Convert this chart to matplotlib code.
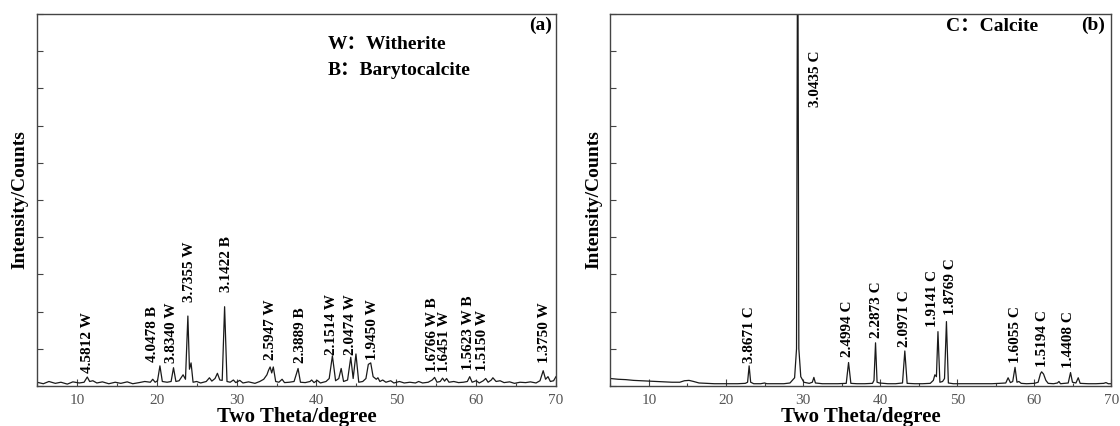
"""
XRD patterns of the two carbonate samples
"""
import matplotlib
matplotlib.use('Agg')
import matplotlib.pyplot as plt
from matplotlib.ticker import MultipleLocator

plt.rcParams['font.family'] = ['Liberation Serif', 'Noto Sans CJK SC']

# (a) witherite / barytocalcite sample, trace
two_theta_a = [5.0, 5.8, 6.5, 7.3, 8.0, 8.8, 9.5, 10.3, 10.9, 11.3, 11.6, 12.0, 12.5, 13.2, 14.0,
               14.8, 15.5, 16.3, 17.0, 17.8, 18.5, 19.2, 19.5, 19.8, 20.1, 20.4, 20.7, 21.3, 21.8,
               22.1, 22.4, 22.8, 23.3, 23.6, 23.9, 24.1, 24.3, 24.55, 25.0, 25.5, 26.2, 26.6, 26.9,
               27.3, 27.6, 27.9, 28.2, 28.5, 28.8, 29.2, 29.6, 29.9, 30.4, 30.8, 31.5, 32.3, 32.9,
               33.4, 33.8, 34.0, 34.2, 34.4, 34.6, 34.9, 35.3, 35.7, 36.0, 36.6, 37.2, 37.7, 38.0,
               38.6, 39.2, 39.4, 39.7, 40.1, 40.5, 41.2, 41.6, 42.0, 42.4, 42.8, 43.1, 43.4, 43.9,
               44.3, 44.6, 44.95, 45.3, 45.8, 46.2, 46.5, 46.8, 47.1, 47.5, 47.7, 47.95, 48.3, 48.7,
               49.3, 49.7, 50.4, 51.0, 51.7, 52.4, 52.8, 53.3, 54.0, 54.5, 54.8, 55.1, 55.5, 55.8,
               56.05, 56.3, 56.6, 57.2, 57.8, 58.4, 58.9, 59.2, 59.5, 60.0, 60.4, 60.9, 61.2, 61.5,
               61.9, 62.1, 62.5, 63.0, 63.5, 64.2, 64.8, 65.5, 66.2, 66.8, 67.5, 68.0, 68.4, 68.7,
               69.0, 69.3, 69.7, 70.0]
counts_a = [0.10, 0.06, 0.12, 0.07, 0.10, 0.05, 0.11, 0.08, 0.10, 0.24, 0.12, 0.14, 0.08, 0.11, 0.06,
            0.10, 0.07, 0.11, 0.06, 0.09, 0.12, 0.10, 0.18, 0.10, 0.14, 0.54, 0.12, 0.10, 0.12,
            0.49, 0.12, 0.14, 0.30, 0.18, 1.88, 0.45, 0.62, 0.10, 0.12, 0.08, 0.12, 0.22, 0.13,
            0.20, 0.34, 0.16, 0.15, 2.13, 0.12, 0.10, 0.16, 0.09, 0.15, 0.08, 0.11, 0.07, 0.12,
            0.18, 0.30, 0.42, 0.51, 0.35, 0.51, 0.12, 0.10, 0.18, 0.09, 0.10, 0.12, 0.47, 0.10,
            0.09, 0.12, 0.16, 0.09, 0.15, 0.08, 0.12, 0.20, 0.81, 0.14, 0.20, 0.47, 0.12, 0.16,
            0.77, 0.20, 0.86, 0.10, 0.12, 0.20, 0.58, 0.62, 0.25, 0.18, 0.22, 0.12, 0.16, 0.10,
            0.14, 0.08, 0.12, 0.08, 0.10, 0.08, 0.12, 0.08, 0.10, 0.16, 0.23, 0.10, 0.12, 0.21,
            0.13, 0.20, 0.10, 0.12, 0.09, 0.10, 0.12, 0.25, 0.10, 0.14, 0.08, 0.14, 0.20, 0.10,
            0.16, 0.22, 0.12, 0.14, 0.09, 0.11, 0.07, 0.10, 0.09, 0.11, 0.08, 0.14, 0.41, 0.18,
            0.25, 0.12, 0.14, 0.25]

# peak labels of (a): text, position, height of label foot
labels_a = ['4.5812 W', '4.0478 B', '3.8340 W', '3.7355 W', '3.1422 B', '2.5947 W', '2.3889 B',
            '2.1514 W', '2.0474 W', '1.9450 W', '1.6766 W B', '1.6451 W', '1.5623 W B',
            '1.5150 W', '1.3750 W']
label_x_a = [11.3, 19.5, 21.8, 24.1, 28.7, 34.2, 38.0, 41.9, 44.3, 47.0, 54.5, 56.0, 59.1, 60.8, 68.6]
label_y_a = [0.34, 0.65, 0.61, 2.27, 2.53, 0.70, 0.62, 0.83, 0.83, 0.70, 0.38, 0.38, 0.43, 0.41, 0.61]

# (b) calcite sample
two_theta_b = [5.0, 6.0, 7.0, 8.0, 9.0, 10.0, 11.0, 12.0, 13.0, 14.0, 14.6, 15.2, 15.8, 16.5, 17.5,
               18.5, 19.5, 20.5, 21.5, 22.5, 22.8, 23.0, 23.2, 23.6, 24.5, 25.0, 25.3, 26.5, 27.5,
               28.3, 28.9, 29.15, 29.3, 29.45, 29.7, 30.1, 30.8, 31.2, 31.4, 31.6, 32.5, 33.5, 34.5,
               35.6, 35.9, 36.2, 37.0, 38.0, 39.0, 39.2, 39.4, 39.6, 39.9, 41.0, 42.0, 42.9, 43.2,
               43.5, 44.5, 45.5, 46.5, 46.9, 47.1, 47.3, 47.5, 47.75, 48.1, 48.35, 48.6, 48.85,
               49.5, 50.5, 51.5, 52.5, 53.5, 54.5, 55.5, 56.3, 56.6, 56.9, 57.2, 57.5, 57.75, 58.0,
               58.3, 59.0, 60.0, 60.5, 60.8, 60.95, 61.2, 61.5, 61.8, 62.5, 63.0, 63.2, 63.4, 64.4,
               64.7, 64.95, 65.4, 65.7, 65.95, 67.0, 68.0, 69.0, 69.3, 69.6, 70.0]
counts_b = [0.20, 0.18, 0.17, 0.15, 0.14, 0.13, 0.12, 0.11, 0.10, 0.10, 0.14, 0.15, 0.12, 0.08, 0.07,
            0.06, 0.06, 0.06, 0.06, 0.07, 0.10, 0.54, 0.10, 0.06, 0.06, 0.08, 0.06, 0.06, 0.06,
            0.08, 0.22, 1.00, 14.0, 1.00, 0.25, 0.10, 0.07, 0.10, 0.23, 0.08, 0.06, 0.06, 0.06,
            0.07, 0.63, 0.07, 0.06, 0.06, 0.07, 0.15, 1.16, 0.10, 0.08, 0.06, 0.06, 0.08, 0.94,
            0.07, 0.06, 0.06, 0.07, 0.15, 0.30, 0.25, 1.46, 0.10, 0.12, 0.20, 1.73, 0.08,
            0.06, 0.06, 0.06, 0.06, 0.06, 0.06, 0.07, 0.08, 0.22, 0.09, 0.12, 0.50, 0.10, 0.12,
            0.07, 0.06, 0.07, 0.10, 0.33, 0.38, 0.32, 0.15, 0.07, 0.06, 0.08, 0.12, 0.06, 0.08,
            0.36, 0.10, 0.08, 0.22, 0.07, 0.06, 0.06, 0.07, 0.09, 0.06, 0.06]

labels_b = ['3.8671 C', '3.0435 C', '2.4994 C', '2.2873 C', '2.0971 C', '1.9141 C', '1.8769 C',
            '1.6055 C', '1.5194 C', '1.4408 C']
label_x_b = [23.0, 31.6, 35.8, 39.5, 43.2, 46.8, 49.1, 57.5, 61.0, 64.4]
label_y_b = [0.61, 7.50, 0.77, 1.28, 1.06, 1.58, 1.91, 0.61, 0.52, 0.47]


def style_axis(ax):
    ax.set_xlim(5, 70)
    ax.set_ylim(0, 10)
    ax.xaxis.set_major_locator(MultipleLocator(10))
    ax.xaxis.set_minor_locator(MultipleLocator(5))
    ax.yaxis.set_major_locator(MultipleLocator(1))
    ax.tick_params(axis='x', which='major', direction='in', length=5, width=0.8,
                   color='#444444', labelsize=11, labelcolor='#555555', pad=6, top=False)
    ax.tick_params(axis='x', which='minor', direction='in', length=2.5, width=0.8,
                   color='#444444', top=False)
    ax.tick_params(axis='y', which='major', direction='in', length=4, width=0.8,
                   color='#444444', labelleft=False, right=False)
    for s in ax.spines.values():
        s.set_color('#444444')
        s.set_linewidth(1.0)
    ax.set_xlabel('Two Theta/degree', fontsize=15, fontweight='bold', labelpad=0)
    ax.set_ylabel('Intensity/Counts', fontsize=14, fontweight='bold', labelpad=6)


fig = plt.figure(figsize=(11.2, 4.26), dpi=100)
ax1 = fig.add_axes([0.033, 0.094, 0.4634, 0.8732])
ax2 = fig.add_axes([0.545, 0.094, 0.4473, 0.8732])

ax1.plot(two_theta_a, counts_a, color='#1a1a1a', lw=0.9)
style_axis(ax1)
for t, x, y in zip(labels_a, label_x_a, label_y_a):
    ax1.text(x, y, t, rotation=90, ha='center', va='bottom', fontsize=11, fontweight='bold')
ax1.text(0.992, 0.970, '(a)', transform=ax1.transAxes, ha='right', va='center',
         fontsize=14, fontweight='bold')
ax1.text(0.561, 0.917, 'W：Witherite', transform=ax1.transAxes, ha='left', va='center',
         fontsize=14, fontweight='bold')
ax1.text(0.561, 0.849, 'B：Barytocalcite', transform=ax1.transAxes, ha='left', va='center',
         fontsize=14, fontweight='bold')

ax2.plot(two_theta_b, counts_b, color='#1a1a1a', lw=0.9)
style_axis(ax2)
for t, x, y in zip(labels_b, label_x_b, label_y_b):
    ax2.text(x, y, t, rotation=90, ha='center', va='bottom', fontsize=11, fontweight='bold')
ax2.text(0.987, 0.970, '(b)', transform=ax2.transAxes, ha='right', va='center',
         fontsize=14, fontweight='bold')
ax2.text(0.669, 0.965, 'C：Calcite', transform=ax2.transAxes, ha='left', va='center',
         fontsize=14, fontweight='bold')

fig.savefig('out.png', dpi=100)
